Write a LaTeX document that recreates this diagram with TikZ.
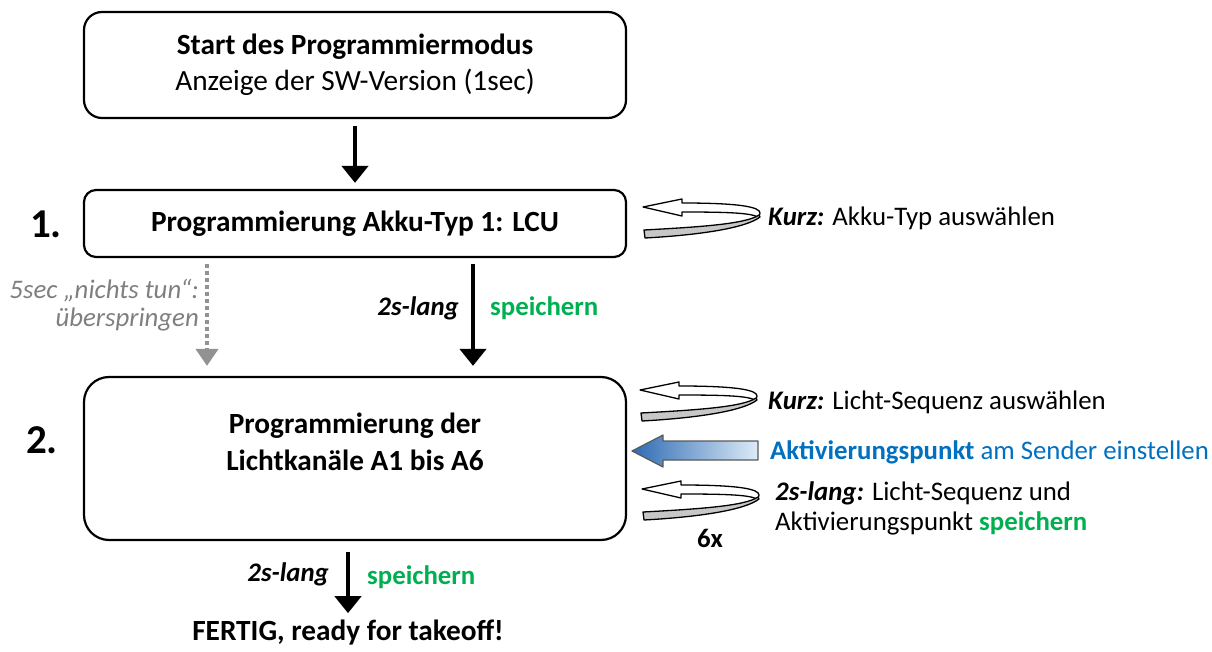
\documentclass[tikz,border=0pt]{standalone}
\usepackage{fontspec}
\setmainfont{Carlito}
\usetikzlibrary{arrows.meta}
\definecolor{tgreen}{HTML}{00B050}
\definecolor{tblue}{HTML}{0070C0}
\definecolor{tgrey}{HTML}{7F7F7F}
\definecolor{adark}{HTML}{2E6BB3}
\definecolor{alight}{HTML}{DDEBF7}
\newcommand{\fsbox}{\fontsize{29.3}{36}\selectfont}
\newcommand{\fsmain}{\fontsize{26.8}{30}\selectfont}
\newcommand{\fsbig}{\fontsize{41}{44}\selectfont}
\begin{document}
\begin{tikzpicture}[x=1pt,y=-1pt,
  box/.style={draw, line width=2.2pt, rounded corners=#1, inner sep=0pt,
              minimum width=542pt, align=center, font=\fsbox},
  txt/.style={inner sep=0pt, font=\fsmain, align=center},
  arr/.style={line width=4.5pt, -{Triangle[width=26pt,length=17pt]}},
  grarr/.style={line width=4pt, tgrey!85, dash pattern=on 4pt off 3pt,
                -{Triangle[width=22pt,length=17pt]}},
  looparr/.pic={
    \draw[line width=1.3pt, fill=white, line join=round]
      (3,7) -- (42,-1) -- (42,3) .. controls (100,3) and (120,7) .. (120,13)
      .. controls (120,15) and (119,16) .. (118,17)
      .. controls (110,13) and (90,12) .. (42,12) -- (42,16) -- cycle;
    \draw[line width=1.3pt, fill=black!22, line join=round]
      (4,30) .. controls (60,27) and (106,24) .. (119,15)
      -- (120,17) .. controls (106,28) and (60,35) .. (5,38) -- cycle;
  }]
\useasboundingbox (0,0) rectangle (1212,652);

% boxes
\node[box=18pt, minimum height=106pt] (b0) at (355,65)
  {\textbf{Start des Programmiermodus}\\Anzeige der SW-Version (1sec)};
\node[box=12pt, minimum height=67pt] (b1) at (355,223.5)
  {\textbf{Programmierung Akku-Typ 1: LCU}};
\node[box=25pt, minimum height=163pt] (b2) at (355,458.5) {};
\node[txt, font=\fontsize{29.3}{37}\selectfont\bfseries] (t2) at (355,442)
  {Programmierung der\\Lichtkanäle A1 bis A6};
\node[txt, font=\fsbox\bfseries] (fin) at (348,633) {FERTIG, ready for takeoff!};

% step numbers
\node[txt, font=\fsbig\bfseries] (n1) at (46,224) {1.};
\node[txt, font=\fsbig\bfseries] (n2) at (42,440) {2.};

% connectors
\draw[arr, shorten <=7pt, shorten >=6pt] (b0.south) -- (b1.north);
\draw[arr, shorten <=6pt, shorten >=10pt] ([xshift=118pt]b1.south) -- ([xshift=118pt]b2.north);
\draw[grarr, shorten <=6pt, shorten >=10pt] ([xshift=-148pt]b1.south) -- ([xshift=-148pt]b2.north);
\draw[arr, shorten <=11pt, shorten >=7pt] ([xshift=-7pt]b2.south) -- (fin.north);

% connector labels
\node[txt, anchor=east, font=\fsmain\bfseries\itshape] (l1a) at (459,308) {2s-lang};
\node[txt, anchor=west, font=\fsmain\bfseries, text=tgreen] (l1b) at (490,308) {speichern};
\node[txt, anchor=east, font=\fsmain\bfseries\itshape] (l2a) at (329,574) {2s-lang};
\node[txt, anchor=west, font=\fsmain\bfseries, text=tgreen] (l2b) at (367,577) {speichern};
\node[txt, anchor=east, font=\fsmain\itshape, text=tgrey] (g1) at (199,291) {5sec „nichts tun“:};
\node[txt, anchor=east, font=\fsmain\itshape, text=tgrey] (g2) at (199,319) {überspringen};

% loop arrows
\pic at (640,200) {looparr};
\pic at (637,383) {looparr};
\pic at (639,482) {looparr};

% blue arrow
\path[draw=black!65, line width=1.2pt, left color=adark, right color=alight, line join=round]
  (632,451) -- (663,435) -- (663,441) -- (758,441) -- (758,460) -- (663,460) -- (663,467) -- cycle;

% right-hand texts
\node[txt, anchor=west] (r1) at (768,218) {\textbf{\textit{Kurz:}} Akku-Typ auswählen};
\node[txt, anchor=west] (r2) at (768,402) {\textbf{\textit{Kurz:}} Licht-Sequenz auswählen};
\node[txt, anchor=west, text=tblue] (r3) at (770,452) {\textbf{Aktivierungspunkt} am Sender einstellen};
\node[txt, anchor=west] (r4) at (775,493) {\textbf{\textit{2s-lang:}} Licht-Sequenz und};
\node[txt, anchor=west] (r5) at (775,523) {Aktivierungspunkt \textcolor{tgreen}{\textbf{speichern}}};
\node[txt, font=\fsmain\bfseries] (six) at (710,538) {6x};
\end{tikzpicture}
\end{document}
